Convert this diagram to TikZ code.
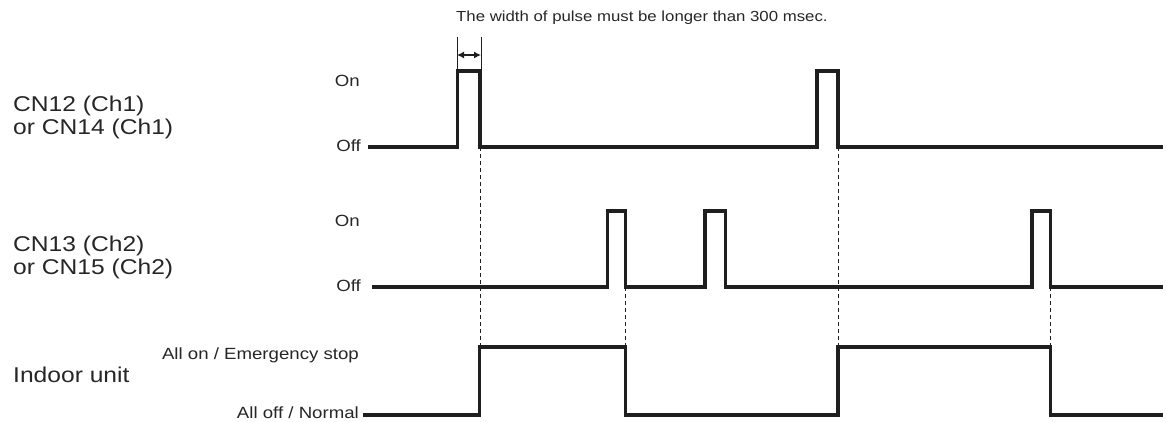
\documentclass[tikz,border=0pt]{standalone}
\usepackage{fontspec}
\setmainfont{Liberation Sans}[FakeStretch=1.15]
\usetikzlibrary{arrows.meta,positioning}

\begin{document}
\begin{tikzpicture}[x=1pt,y=-1pt,
  sig/.style={line width=3.1pt,line join=miter,black!88},
  guide/.style={line width=0.8pt,black!88,dash pattern=on 4pt off 3pt},
  lvl/.style={font=\fontsize{16.2}{19}\selectfont,anchor=east,inner sep=0pt,text=black!85},
  chan/.style={font=\fontsize{21.4}{23}\selectfont,anchor=west,align=left,inner sep=0pt,text=black!85}]
  \useasboundingbox (0,0) rectangle (1166,421);
  % edge points that the guides join
  \coordinate (c1a) at (480,147); \coordinate (c1b) at (838,147);
  \coordinate (c2a) at (625.5,287); \coordinate (c2b) at (1050.5,287);
  \coordinate (u1) at (0,347);
  % channel 1
  \node[chan] (ch1) at (13,117) {CN12 (Ch1)\\or CN14 (Ch1)};
  \node[lvl] (on1) at (360,81) {On};
  \node[lvl] (off1) at (361,146) {Off};
  \draw[sig] (368,147) -- (457.5,147) |- (480,71) |- (817,147) |- (838,71) |- (1163,147);
  % pulse width note
  \coordinate (wl) at (457,55); \coordinate (wr) at (481,55);
  \draw[line width=1pt,black!88] (457,37) -- (457,71) (481,37) -- (481,71);
  \draw[line width=1.2pt,black!88,{Latex[length=7pt,width=7pt]}-{Latex[length=7pt,width=7pt]}] (wl) -- (wr);
  \node[lvl,anchor=west,font=\fontsize{14.6}{18}\selectfont] (note) at (456,18) {The width of pulse must be longer than 300 msec.};
  % channel 2
  \node[chan] (ch2) at (13,257) {CN13 (Ch2)\\or CN15 (Ch2)};
  \node[lvl] (on2) at (360,221) {On};
  \node[lvl] (off2) at (361,286) {Off};
  \draw[sig] (372,287) -- (607.5,287) |- (625.5,211) |- (705,287) |- (725.5,211) |- (1032,287) |- (1050.5,211) |- (1163,287);
  % indoor unit
  \node[chan] (unit) at (13,375) {Indoor unit};
  \node[lvl] (allon) at (359,355) {All on / Emergency stop};
  \node[lvl] (alloff) at (359,413) {All off / Normal};
  \draw[sig] (363,415) -- (479.5,415) |- (625.5,347) |- (838,415) |- (1050.5,347) |- (1163,415);
  \foreach \p in {c1a,c1b,c2a,c2b} \draw[guide] (\p) -- (\p |- u1);
\end{tikzpicture}
\end{document}
